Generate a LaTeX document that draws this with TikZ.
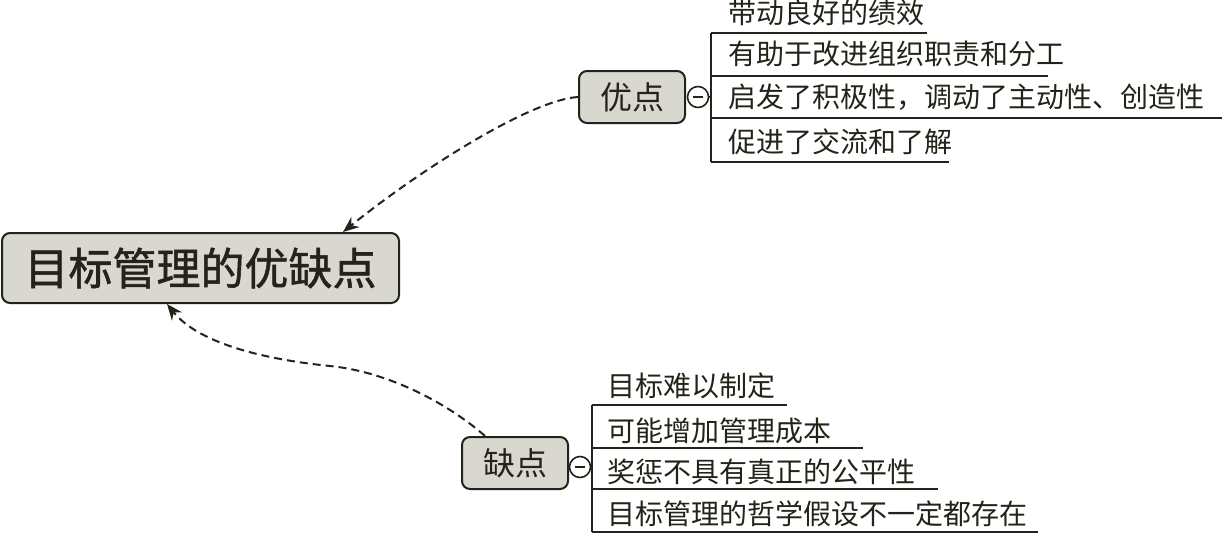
\documentclass[tikz,border=0pt]{standalone}
\usepackage{fontspec}
\setmainfont{Noto Sans CJK SC}
\newfontfamily\titlefont{Noto Sans CJK SC}[FakeBold=1.2]
\usetikzlibrary{arrows.meta}
\definecolor{boxfill}{RGB}{216,216,208}
\definecolor{ink}{RGB}{35,35,25}
\tikzset{
  mainbox/.style={draw=ink, line width=2pt, fill=boxfill, rounded corners=8pt,
    minimum width=397pt, minimum height=70pt, inner sep=0pt, text=ink,
    font=\titlefont\fontsize{44}{44}\selectfont},
  subbox/.style={draw=ink, line width=2pt, fill=boxfill, rounded corners=8pt,
    minimum width=106pt, minimum height=52pt, inner sep=0pt, text=ink,
    font=\fontsize{32}{32}\selectfont},
  item/.style={anchor=west, inner sep=0pt, text=ink, font=\fontsize{28}{28}\selectfont},
  toggle/.style={circle, draw=ink, line width=1.6pt, fill=white, minimum size=21pt, inner sep=0pt},
  branch/.style={draw=ink, line width=2pt},
  link/.style={draw=ink, line width=2pt, dash pattern=on 8pt off 5pt,
    -{Stealth[length=16pt,width=13pt]}},
}
\begin{document}
\begin{tikzpicture}[x=1pt,y=-1pt]
\useasboundingbox (0,0) rectangle (1222,533);
% central topic
\node[mainbox] (main) at (200.5,268) {目标管理的优缺点};
% sub topics
\node[subbox] (yd) at (632,97) {优点};
\node[subbox] (qd) at (515,463) {缺点};
% toggles
\node[toggle] (t1) at (698,97) {};
\node[toggle] (t2) at (580,467) {};
\draw[ink, line width=1.8pt] ([xshift=-5pt]t1.center) -- ([xshift=5pt]t1.center);
\draw[ink, line width=1.8pt] ([xshift=-5pt]t2.center) -- ([xshift=5pt]t2.center);
% bracket coordinates (top group)
\coordinate (b1) at (711,33);
\coordinate (b4) at (711,162);
\coordinate (e1) at (927,33);
\coordinate (e2) at (1048,76);
\coordinate (e3) at (1222,118);
\coordinate (e4) at (949,162);
\draw[branch] (t1.east) -- (t1.east -| b1);
\draw[branch] (b1) -- (b4);
\draw[branch] (b1) -- (e1);
\draw[branch] (b1 |- e2) -- (e2);
\draw[branch] (b1 |- e3) -- (e3);
\draw[branch] (b4) -- (e4);
\node[item] (y1) at (728,13) {带动良好的绩效};
\node[item] (y2) at (728,54) {有助于改进组织职责和分工};
\node[item] (y3) at (728,97) {启发了积极性，调动了主动性、创造性};
\node[item] (y4) at (728,142) {促进了交流和了解};
% bracket coordinates (bottom group)
\coordinate (c1) at (592,405);
\coordinate (c4) at (592,532);
\coordinate (f1) at (787,405);
\coordinate (f2) at (863,448);
\coordinate (f3) at (938,489);
\coordinate (f4) at (1038,532);
\draw[branch] (t2.east) -- (t2.east -| c1);
\draw[branch] (c1) -- (c4);
\draw[branch] (c1) -- (f1);
\draw[branch] (c1 |- f2) -- (f2);
\draw[branch] (c1 |- f3) -- (f3);
\draw[branch] (c4) -- (f4);
\node[item] (q1) at (607,386) {目标难以制定};
\node[item] (q2) at (607,431) {可能增加管理成本};
\node[item] (q3) at (607,472) {奖惩不具有真正的公平性};
\node[item] (q4) at (607,514) {目标管理的哲学假设不一定都存在};
% dashed connectors
\draw[link] (yd.west) .. controls (530,100) and (420,170) .. ([xshift=-57pt]main.north east);
\draw[link] ([xshift=-30pt]qd.north) .. controls (450,405) and (390,372) .. (330,366)
  .. controls (270,360) and (200,345) .. ([xshift=-33.5pt]main.south);
\end{tikzpicture}
\end{document}
